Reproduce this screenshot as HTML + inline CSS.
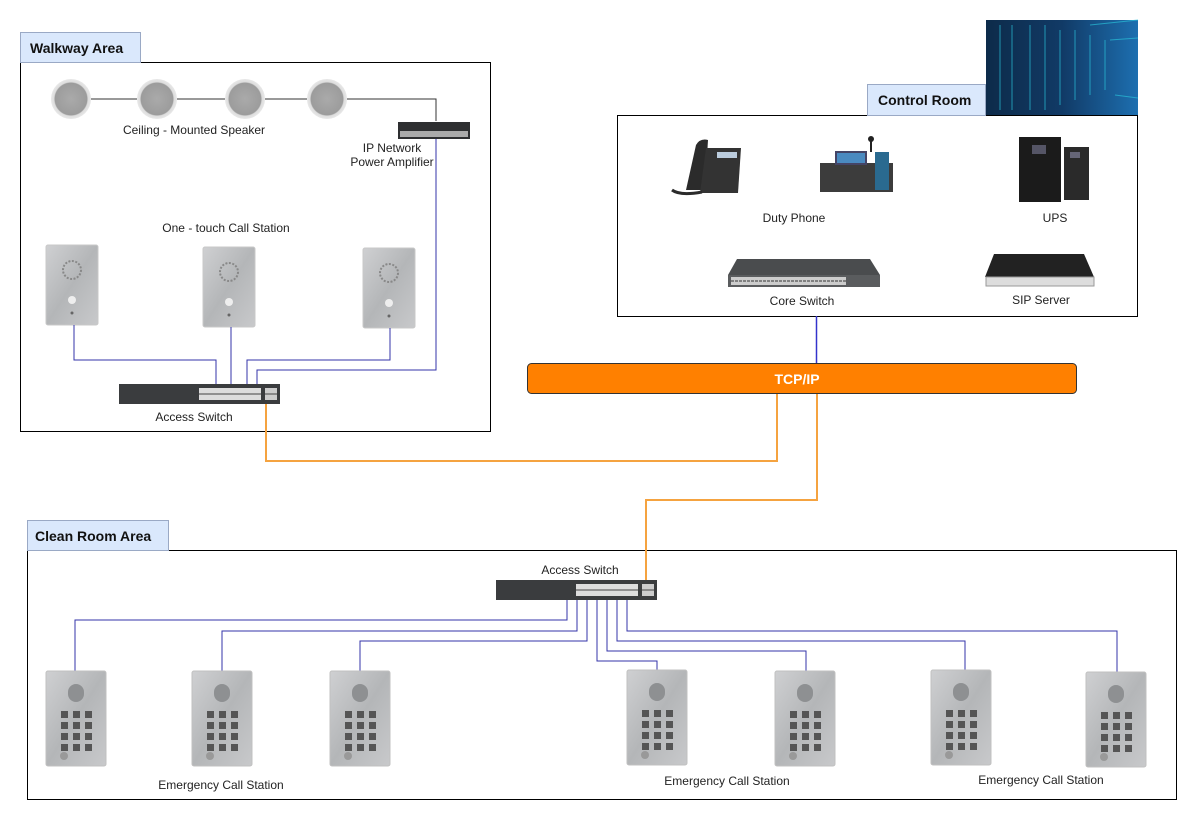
<!DOCTYPE html>
<html><head><meta charset="utf-8"><style>
html,body{margin:0;padding:0;background:#fff;}
svg{display:block;font-family:"Liberation Sans",sans-serif;}
.t{font-size:12px;fill:#222;}
.h{font-size:14px;font-weight:bold;fill:#111;}
</style></head><body>
<svg width="1197" height="821" viewBox="0 0 1197 821" xmlns="http://www.w3.org/2000/svg">
<defs>
<radialGradient id="spk" cx="50%" cy="50%" r="50%"><stop offset="0" stop-color="#aaa"/><stop offset="0.8" stop-color="#9c9c9c"/><stop offset="0.85" stop-color="#ddd"/><stop offset="1" stop-color="#e8e8e8"/></radialGradient>
<linearGradient id="steel" x1="0" y1="0" x2="1" y2="1"><stop offset="0" stop-color="#cfd0d2"/><stop offset="0.5" stop-color="#b4b6b8"/><stop offset="1" stop-color="#c8c9cb"/></linearGradient>
<linearGradient id="srv" x1="0" y1="0" x2="1" y2="0"><stop offset="0" stop-color="#0d2b4a"/><stop offset="0.5" stop-color="#113a66"/><stop offset="1" stop-color="#1d6fb0"/></linearGradient>
<g id="ecs">
<rect x="0" y="0" width="60" height="95" rx="2" fill="url(#steel)" stroke="#c0c0c0"/>
<rect x="22" y="13" width="16" height="18" rx="8" fill="#8e9092"/>
<g fill="#555">
<rect x="15" y="40" width="7" height="7"/><rect x="27" y="40" width="7" height="7"/><rect x="39" y="40" width="7" height="7"/>
<rect x="15" y="51" width="7" height="7"/><rect x="27" y="51" width="7" height="7"/><rect x="39" y="51" width="7" height="7"/>
<rect x="15" y="62" width="7" height="7"/><rect x="27" y="62" width="7" height="7"/><rect x="39" y="62" width="7" height="7"/>
<rect x="15" y="73" width="7" height="7"/><rect x="27" y="73" width="7" height="7"/><rect x="39" y="73" width="7" height="7"/>
</g>
<circle cx="18" cy="85" r="4" fill="#999"/>
</g>
<g id="ots">
<rect x="0" y="0" width="52" height="80" rx="2" fill="url(#steel)" stroke="#c8c8c8"/>
<circle cx="26" cy="25" r="9" fill="none" stroke="#888" stroke-width="2" stroke-dasharray="2 1.5"/>
<circle cx="26" cy="55" r="4" fill="#eee"/>
<circle cx="26" cy="68" r="1.5" fill="#666"/>
</g>
<g id="sw">
<rect x="0" y="0" width="161" height="20" fill="#3a3c3e"/>
<rect x="80" y="4" width="62" height="12" fill="#ddd"/>
<rect x="146" y="4" width="12" height="12" fill="#ccc"/>
<path d="M80 10 H142 M146 10 H158" stroke="#444"/>
</g>
</defs>

<!-- Walkway area -->
<rect x="20.5" y="62.5" width="470" height="369" fill="#fff" stroke="#000"/>
<rect x="20.5" y="32.5" width="120" height="30" fill="#dae8fc" stroke="#9aa9c5"/>
<text x="30" y="53" class="h">Walkway Area</text>
<path d="M91 99H137 M177 99H225 M265 99H307 M347 99H436V121" stroke="#333" fill="none"/>
<circle cx="71" cy="99" r="20" fill="url(#spk)"/>
<circle cx="157" cy="99" r="20" fill="url(#spk)"/>
<circle cx="245" cy="99" r="20" fill="url(#spk)"/>
<circle cx="327" cy="99" r="20" fill="url(#spk)"/>
<text x="194" y="134" class="t" text-anchor="middle">Ceiling - Mounted Speaker</text>
<rect x="398" y="122" width="72" height="17" fill="#2e2f31"/>
<rect x="400" y="131" width="68" height="6" fill="#aaa"/>
<text x="392" y="152" class="t" text-anchor="middle">IP Network</text>
<text x="392" y="166" class="t" text-anchor="middle">Power Amplifier</text>
<text x="226" y="232" class="t" text-anchor="middle">One - touch Call Station</text>
<use href="#ots" x="46" y="245"/>
<use href="#ots" x="203" y="247"/>
<use href="#ots" x="363" y="248"/>
<path d="M74 325V360H216V384 M231 327V384 M390 328V360H247V384 M436 139V370H257V384" stroke="#3333aa" fill="none"/>
<use href="#sw" x="119" y="384"/>
<text x="194" y="421" class="t" text-anchor="middle">Access Switch</text>

<!-- Control room -->
<rect x="986" y="20" width="152" height="95" fill="url(#srv)"/>
<g stroke="#29c0d8" stroke-width="1" opacity="0.7">
<path d="M1000 25V110 M1012 25V110 M1030 25V110 M1045 25V110 M1060 30V105 M1075 30V100 M1090 35V95 M1105 40V90"/>
<path d="M1090 25L1138 20 M1110 40L1138 38 M1115 95L1138 98"/>
</g>
<rect x="617.5" y="115.5" width="520" height="201" fill="#fff" stroke="#000"/>
<rect x="867.5" y="84.5" width="118" height="31" fill="#dae8fc" stroke="#9aa9c5"/>
<text x="878" y="105" class="h">Control Room</text>
<!-- phone 1 -->
<path d="M686 190 L696 145 Q700 138 708 140 L705 190 Z" fill="#2b2b2b"/>
<path d="M706 148 L741 148 L738 193 L700 193 Z" fill="#333"/>
<rect x="717" y="152" width="20" height="6" fill="#bcd"/>
<path d="M672 190 Q680 196 702 192" stroke="#2b2b2b" stroke-width="3" fill="none"/>
<!-- phone 2 -->
<path d="M820 163 L893 163 L893 192 L820 192 Z" fill="#3c3c3c"/>
<rect x="835" y="151" width="32" height="14" fill="#446"/>
<rect x="837" y="153" width="28" height="10" fill="#4a8ac0"/>
<rect x="875" y="152" width="14" height="38" fill="#2a6a90"/>
<path d="M871 152V140" stroke="#222" stroke-width="2"/><circle cx="871" cy="139" r="3" fill="#222"/>
<text x="794" y="222" class="t" text-anchor="middle">Duty Phone</text>
<!-- UPS -->
<rect x="1019" y="137" width="42" height="65" fill="#1b1b1b"/>
<rect x="1032" y="145" width="14" height="9" fill="#556"/>
<rect x="1064" y="147" width="25" height="53" fill="#2a2a2a"/>
<rect x="1070" y="152" width="10" height="6" fill="#667"/>
<text x="1055" y="222" class="t" text-anchor="middle">UPS</text>
<!-- core switch -->
<path d="M737 259 L870 259 L880 275 L728 275 Z" fill="#4a4c4e"/>
<rect x="728" y="275" width="152" height="12" fill="#5a5c5e"/>
<rect x="731" y="277" width="115" height="8" fill="#ccc"/>
<path d="M731 281H846" stroke="#333" stroke-dasharray="3 1"/>
<text x="802" y="305" class="t" text-anchor="middle">Core Switch</text>
<!-- SIP server -->
<path d="M994 254 L1084 254 L1094 277 L985 277 Z" fill="#222"/>
<rect x="986" y="277" width="108" height="9" fill="#ddd" stroke="#999"/>
<text x="1041" y="304" class="t" text-anchor="middle">SIP Server</text>
<path d="M816.5 316V363" stroke="#3333cc" stroke-width="1.5"/>

<!-- TCP/IP -->
<path d="M266 404V461H777V393 M817 393V500H646V580" stroke="#f5a340" stroke-width="2" fill="none"/>
<rect x="527.5" y="363.5" width="549" height="30" rx="4" fill="#ff8000" stroke="#333"/>
<text x="797" y="384" text-anchor="middle" style="font-size:14px;font-weight:bold;fill:#fff">TCP/IP</text>

<!-- Clean room -->
<rect x="27.5" y="550.5" width="1149" height="249" fill="none" stroke="#000"/>
<rect x="27.5" y="520.5" width="141" height="30" fill="#dae8fc" stroke="#9aa9c5"/>
<text x="35" y="541" class="h">Clean Room Area</text>
<path d="M646 550V580" stroke="#f5a340" stroke-width="2"/>
<text x="580" y="574" class="t" text-anchor="middle">Access Switch</text>
<use href="#sw" x="496" y="580"/>
<g stroke="#3333aa" fill="none">
<path d="M567 600V620H75V671"/>
<path d="M577 600V631H222V671"/>
<path d="M587 600V641H360V671"/>
<path d="M597 600V661H657V671"/>
<path d="M607 600V651H806V671"/>
<path d="M617 600V641H965V670"/>
<path d="M627 600V631H1117V672"/>
</g>
<use href="#ecs" x="46" y="671"/>
<use href="#ecs" x="192" y="671"/>
<use href="#ecs" x="330" y="671"/>
<use href="#ecs" x="627" y="670"/>
<use href="#ecs" x="775" y="671"/>
<use href="#ecs" x="931" y="670"/>
<use href="#ecs" x="1086" y="672"/>
<text x="221" y="789" class="t" text-anchor="middle">Emergency Call Station</text>
<text x="727" y="785" class="t" text-anchor="middle">Emergency Call Station</text>
<text x="1041" y="784" class="t" text-anchor="middle">Emergency Call Station</text>
</svg>
</body></html>
